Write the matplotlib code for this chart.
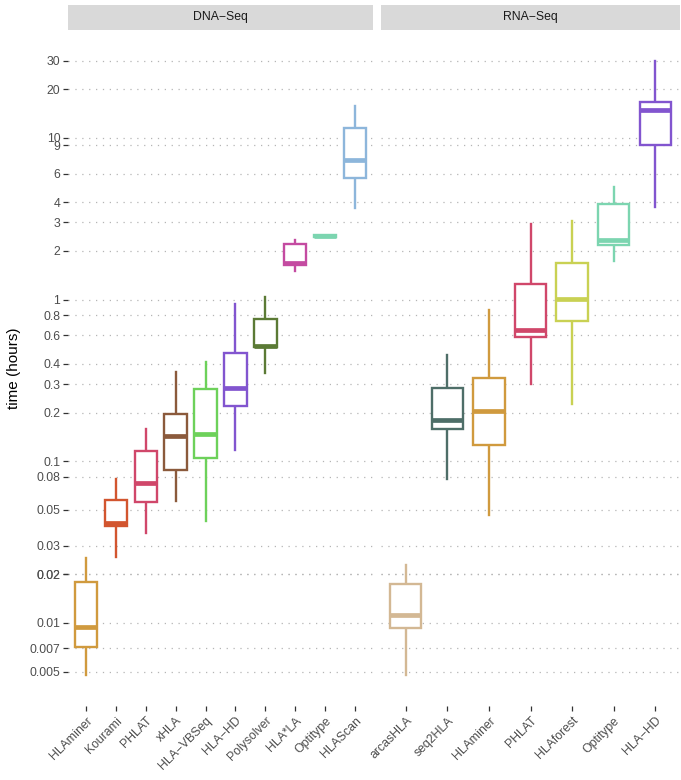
import numpy as np
import matplotlib
matplotlib.use("Agg")
import matplotlib.pyplot as plt

plt.rcParams['font.family'] = ['Liberation Sans', 'DejaVu Sans']

# runtime summaries (hours): whisker low, q1, median, q3, whisker high
dna_tools = ["HLAminer", "Kourami", "PHLAT", "xHLA", "HLA\u2212VBSeq", "HLA\u2212HD",
             "Polysolver", "HLA*LA", "Optitype", "HLAScan"]
dna_lo = [0.0048, 0.0255, 0.036, 0.057, 0.043, 0.117, 0.35, 1.50, 2.45, 3.70]
dna_q1 = [0.0071, 0.040, 0.056, 0.088, 0.105, 0.221, 0.507, 1.64, 2.45, 5.62]
dna_med = [0.0095, 0.0414, 0.073, 0.143, 0.147, 0.285, 0.519, 1.69, 2.47, 7.27]
dna_q3 = [0.0179, 0.0576, 0.115, 0.197, 0.279, 0.47, 0.759, 2.20, 2.49, 11.5]
dna_hi = [0.0253, 0.078, 0.158, 0.356, 0.413, 0.94, 1.04, 2.34, 2.49, 15.7]
dna_colors = ["#D09A3E", "#D2552F", "#D0476A", "#8B5A3C", "#6DD15A", "#8255CF",
              "#5B7A35", "#C44BA1", "#7CD5B0", "#8DB6DB"]

rna_tools = ["arcasHLA", "seq2HLA", "HLAminer", "PHLAT", "HLAforest", "Optitype", "HLA\u2212HD"]
rna_lo = [0.0048, 0.078, 0.0466, 0.301, 0.225, 1.74, 3.76]
rna_q1 = [0.0093, 0.158, 0.126, 0.585, 0.741, 2.18, 9.04]
rna_med = [0.0112, 0.179, 0.204, 0.649, 1.01, 2.34, 14.9]
rna_q3 = [0.0173, 0.284, 0.329, 1.24, 1.69, 3.90, 16.6]
rna_hi = [0.0228, 0.454, 0.863, 2.92, 3.06, 4.99, 30.0]
rna_colors = ["#D3B894", "#4E6E68", "#D09A3E", "#D0476A", "#C9D153", "#7CD5B0", "#8255CF"]

ytick_vals = [0.005, 0.007, 0.01, 0.02, 0.02, 0.03, 0.05, 0.08, 0.1, 0.2, 0.3, 0.4,
              0.6, 0.8, 1, 2, 3, 4, 6, 9, 10, 20, 30]
ytick_labels = ["0.005", "0.007", "0.01", "0.02", "0.02", "0.03", "0.05", "0.08", "0.1",
                "0.2", "0.3", "0.4", "0.6", "0.8", "1", "2", "3", "4", "6", "9", "10", "20", "30"]

W, H = 681, 780
fig = plt.figure(figsize=(W / 100, H / 100), dpi=100)

def px_axes(x0, y0, x1, y1):
    return fig.add_axes([x0 / W, 1 - y1 / H, (x1 - x0) / W, (y1 - y0) / H])

panel_top, panel_bot = 30, 705.6
ax1 = px_axes(68, panel_top, 373, panel_bot)
ax2 = px_axes(381, panel_top, 680, panel_bot)

def draw_panel(ax, tools, lo, q1, med, q3, hi, colors):
    stats = []
    for i in range(len(tools)):
        stats.append(dict(whislo=lo[i], q1=q1[i], med=med[i], q3=q3[i], whishi=hi[i],
                          label=tools[i]))
    pos = np.arange(1, len(tools) + 1)
    bp = ax.bxp(stats, positions=pos, widths=0.75, patch_artist=True,
                showfliers=False, showcaps=False)
    for i, c in enumerate(colors):
        bp['boxes'][i].set(facecolor="white", edgecolor=c, linewidth=1.7, zorder=3)
        bp['medians'][i].set(color=c, linewidth=3.4, solid_capstyle="butt", zorder=4)
        for w in bp['whiskers'][2 * i:2 * i + 2]:
            w.set(color=c, linewidth=1.7, zorder=2)
    ax.set_xlim(0.4, len(tools) + 0.6)
    ax.set_yscale("log")
    ax.set_ylim(10 ** -2.511, 10 ** 1.667)
    ax.set_xticks(pos)
    ax.set_xticklabels(tools, rotation=45, ha="right", rotation_mode="anchor",
                       fontsize=8.8, color="#4D4D4D")
    ax.minorticks_off()
    ax.set_yticks(ytick_vals)
    ax.set_yticklabels(ytick_labels)
    ax.minorticks_off()
    ax.grid(axis="y", color="#B5B5B5", linestyle=(0, (1, 4.5)), linewidth=0.9)
    ax.set_axisbelow(True)
    for s in ax.spines.values():
        s.set_visible(False)
    ax.tick_params(axis="x", length=3.5, width=0.9, color="#333333", pad=3)
    ax.tick_params(axis="y", length=3.5, width=0.9, color="#333333", pad=2,
                   labelsize=8.8, labelcolor="#4D4D4D")

draw_panel(ax1, dna_tools, dna_lo, dna_q1, dna_med, dna_q3, dna_hi, dna_colors)
draw_panel(ax2, rna_tools, rna_lo, rna_q1, rna_med, rna_q3, rna_hi, rna_colors)
ax2.tick_params(axis="y", length=0, labelleft=False)

ax1.set_ylabel("time (hours)", fontsize=11, color="black", labelpad=6)

# facet strips
for x0, x1, title in [(68, 373, "DNA\u2212Seq"), (381, 680, "RNA\u2212Seq")]:
    sax = px_axes(x0, 4.5, x1, 29.5)
    sax.set_facecolor("#D9D9D9")
    sax.set_xticks([])
    sax.set_yticks([])
    for s in sax.spines.values():
        s.set_visible(False)
    sax.text(0.5, 0.5, title, ha="center", va="center", fontsize=8.8,
             color="#1A1A1A", transform=sax.transAxes)

fig.savefig("out.png", dpi=100)
